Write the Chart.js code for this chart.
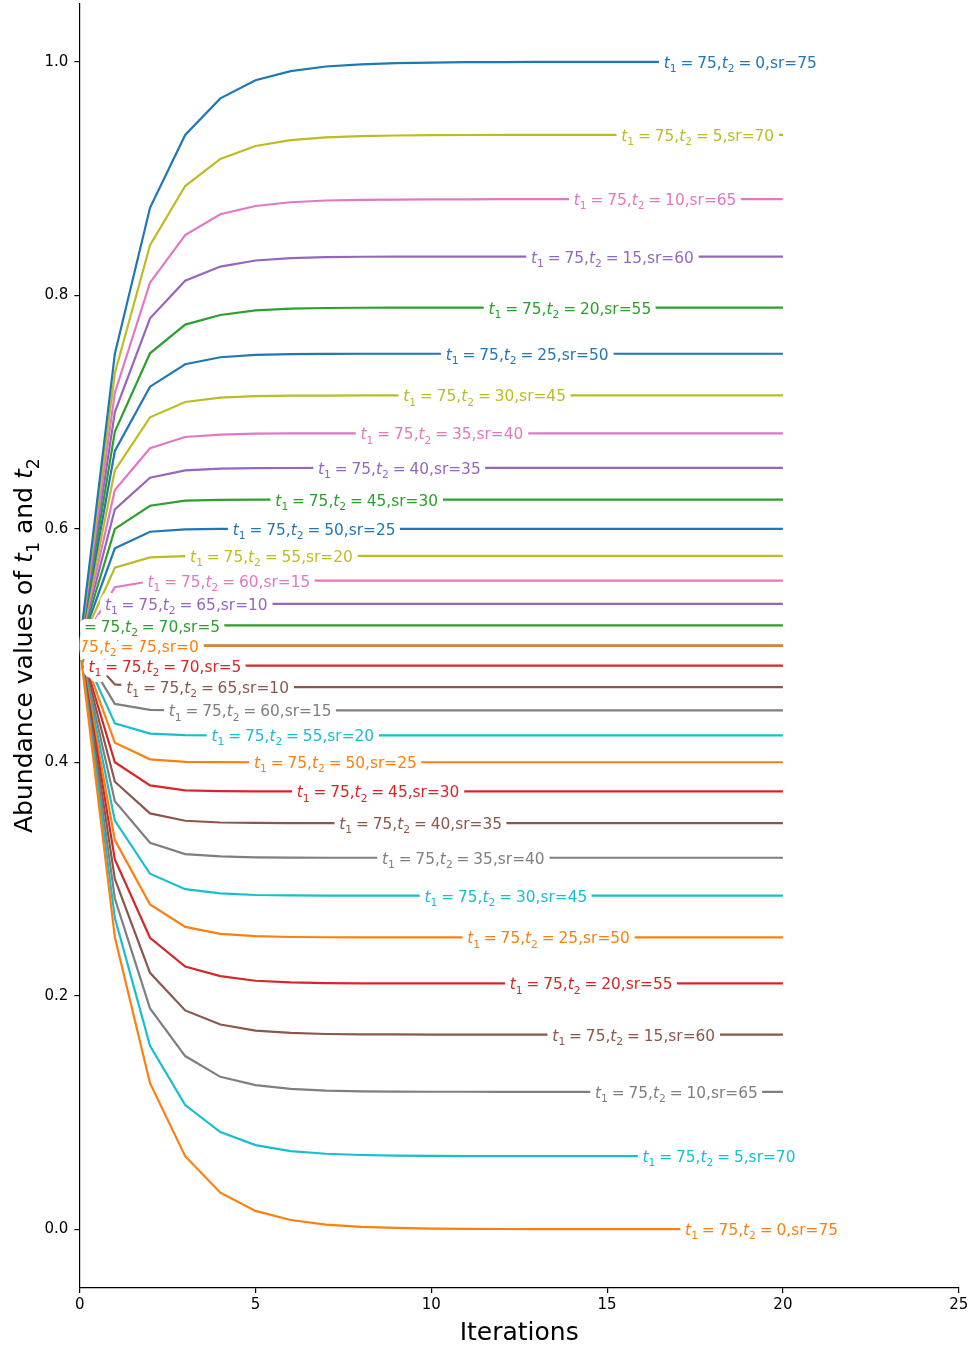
<!DOCTYPE html>
<html>
<head>
<meta charset="utf-8">
<title>Abundance of t1 and t2 over iterations</title>
<script src="https://cdn.jsdelivr.net/npm/chart.js@4.4.1/dist/chart.umd.min.js"></script>
<style>
  html, body { margin: 0; padding: 0; background: #ffffff; }
  #wrap { width: 974px; height: 1348px; position: relative; }
</style>
</head>
<body>
<div id="wrap"><canvas id="chart" width="974" height="1348"></canvas></div>
<script>
// ---- data ----------------------------------------------------------------
const iterations = [0, 1, 2, 3, 4, 5, 6, 7, 8, 9, 10, 11, 12, 13, 14, 15, 16, 17, 18, 19, 20];

const t1Value = 75;
// runs, in plotting order
const t2Values = [75, 70, 65, 60, 55, 50, 45, 40, 35, 30, 25, 20, 15, 10, 5, 0];
const srValues = [0, 5, 10, 15, 20, 25, 30, 35, 40, 45, 50, 55, 60, 65, 70, 75];

// abundance of t1 per iteration, one row per run
const t1Runs = [
  [0.5, 0.5, 0.5, 0.5, 0.5, 0.5, 0.5,
   0.5, 0.5, 0.5, 0.5, 0.5, 0.5, 0.5,
   0.5, 0.5, 0.5, 0.5, 0.5, 0.5, 0.5],
  [0.5, 0.5167, 0.5172, 0.5172, 0.5172, 0.5172, 0.5172,
   0.5172, 0.5172, 0.5172, 0.5172, 0.5172, 0.5172, 0.5172,
   0.5172, 0.5172, 0.5172, 0.5172, 0.5172, 0.5172, 0.5172],
  [0.5, 0.5333, 0.5356, 0.5357, 0.5357, 0.5357, 0.5357,
   0.5357, 0.5357, 0.5357, 0.5357, 0.5357, 0.5357, 0.5357,
   0.5357, 0.5357, 0.5357, 0.5357, 0.5357, 0.5357, 0.5357],
  [0.5, 0.55, 0.5551, 0.5555, 0.5556, 0.5556, 0.5556,
   0.5556, 0.5556, 0.5556, 0.5556, 0.5556, 0.5556, 0.5556,
   0.5556, 0.5556, 0.5556, 0.5556, 0.5556, 0.5556, 0.5556],
  [0.5, 0.5667, 0.5755, 0.5767, 0.5769, 0.5769, 0.5769,
   0.5769, 0.5769, 0.5769, 0.5769, 0.5769, 0.5769, 0.5769,
   0.5769, 0.5769, 0.5769, 0.5769, 0.5769, 0.5769, 0.5769],
  [0.5, 0.5833, 0.5975, 0.5996, 0.5999, 0.6, 0.6,
   0.6, 0.6, 0.6, 0.6, 0.6, 0.6, 0.6,
   0.6, 0.6, 0.6, 0.6, 0.6, 0.6, 0.6],
  [0.5, 0.6, 0.6198, 0.6241, 0.6248, 0.625, 0.625,
   0.625, 0.625, 0.625, 0.625, 0.625, 0.625, 0.625,
   0.625, 0.625, 0.625, 0.625, 0.625, 0.625, 0.625],
  [0.5, 0.6167, 0.6438, 0.6501, 0.6516, 0.652, 0.6521,
   0.6522, 0.6522, 0.6522, 0.6522, 0.6522, 0.6522, 0.6522,
   0.6522, 0.6522, 0.6522, 0.6522, 0.6522, 0.6522, 0.6522],
  [0.5, 0.6333, 0.669, 0.6787, 0.6807, 0.6815, 0.6817,
   0.6818, 0.6818, 0.6818, 0.6818, 0.6818, 0.6818, 0.6818,
   0.6818, 0.6818, 0.6818, 0.6818, 0.6818, 0.6818, 0.6818],
  [0.5, 0.65, 0.6955, 0.7087, 0.7124, 0.7137, 0.7141,
   0.7142, 0.7143, 0.7143, 0.7143, 0.7143, 0.7143, 0.7143,
   0.7143, 0.7143, 0.7143, 0.7143, 0.7143, 0.7143, 0.7143],
  [0.5, 0.6667, 0.7218, 0.741, 0.747, 0.749, 0.7497,
   0.7499, 0.75, 0.75, 0.75, 0.75, 0.75, 0.75,
   0.75, 0.75, 0.75, 0.75, 0.75, 0.75, 0.75],
  [0.5, 0.6833, 0.7504, 0.775, 0.7832, 0.7872, 0.7886,
   0.7892, 0.7894, 0.7895, 0.7895, 0.7895, 0.7895, 0.7895,
   0.7895, 0.7895, 0.7895, 0.7895, 0.7895, 0.7895, 0.7895],
  [0.5, 0.7, 0.7804, 0.8126, 0.8247, 0.8299, 0.8319,
   0.8328, 0.8331, 0.8332, 0.8333, 0.8333, 0.8333, 0.8333,
   0.8333, 0.8333, 0.8333, 0.8333, 0.8333, 0.8333, 0.8333],
  [0.5, 0.7167, 0.8109, 0.8517, 0.8695, 0.8766, 0.8798,
   0.8813, 0.8819, 0.8821, 0.8823, 0.8823, 0.8824, 0.8824,
   0.8824, 0.8824, 0.8824, 0.8824, 0.8824, 0.8824, 0.8824],
  [0.5, 0.7333, 0.843, 0.8937, 0.9169, 0.928, 0.9331,
   0.9354, 0.9365, 0.937, 0.9373, 0.9374, 0.9375, 0.9375,
   0.9375, 0.9375, 0.9375, 0.9375, 0.9375, 0.9375, 0.9375],
  [0.5, 0.75, 0.875, 0.9375, 0.9688, 0.9844, 0.9922,
   0.9961, 0.998, 0.999, 0.9995, 0.9998, 0.9999, 1,
   1, 1, 1, 1, 1, 1, 1]
];

// abundance of t2 per iteration, one row per run
const t2Runs = [
  [0.5, 0.5, 0.5, 0.5, 0.5, 0.5, 0.5,
   0.5, 0.5, 0.5, 0.5, 0.5, 0.5, 0.5,
   0.5, 0.5, 0.5, 0.5, 0.5, 0.5, 0.5],
  [0.5, 0.4833, 0.4828, 0.4828, 0.4828, 0.4828, 0.4828,
   0.4828, 0.4828, 0.4828, 0.4828, 0.4828, 0.4828, 0.4828,
   0.4828, 0.4828, 0.4828, 0.4828, 0.4828, 0.4828, 0.4828],
  [0.5, 0.4667, 0.4644, 0.4643, 0.4643, 0.4643, 0.4643,
   0.4643, 0.4643, 0.4643, 0.4643, 0.4643, 0.4643, 0.4643,
   0.4643, 0.4643, 0.4643, 0.4643, 0.4643, 0.4643, 0.4643],
  [0.5, 0.45, 0.4449, 0.4445, 0.4444, 0.4444, 0.4444,
   0.4444, 0.4444, 0.4444, 0.4444, 0.4444, 0.4444, 0.4444,
   0.4444, 0.4444, 0.4444, 0.4444, 0.4444, 0.4444, 0.4444],
  [0.5, 0.4333, 0.4245, 0.4233, 0.4231, 0.4231, 0.4231,
   0.4231, 0.4231, 0.4231, 0.4231, 0.4231, 0.4231, 0.4231,
   0.4231, 0.4231, 0.4231, 0.4231, 0.4231, 0.4231, 0.4231],
  [0.5, 0.4167, 0.4025, 0.4004, 0.4001, 0.4, 0.4,
   0.4, 0.4, 0.4, 0.4, 0.4, 0.4, 0.4,
   0.4, 0.4, 0.4, 0.4, 0.4, 0.4, 0.4],
  [0.5, 0.4, 0.3802, 0.3759, 0.3752, 0.375, 0.375,
   0.375, 0.375, 0.375, 0.375, 0.375, 0.375, 0.375,
   0.375, 0.375, 0.375, 0.375, 0.375, 0.375, 0.375],
  [0.5, 0.3833, 0.3562, 0.3499, 0.3484, 0.348, 0.3479,
   0.3478, 0.3478, 0.3478, 0.3478, 0.3478, 0.3478, 0.3478,
   0.3478, 0.3478, 0.3478, 0.3478, 0.3478, 0.3478, 0.3478],
  [0.5, 0.3667, 0.331, 0.3213, 0.3193, 0.3185, 0.3183,
   0.3182, 0.3182, 0.3182, 0.3182, 0.3182, 0.3182, 0.3182,
   0.3182, 0.3182, 0.3182, 0.3182, 0.3182, 0.3182, 0.3182],
  [0.5, 0.35, 0.3045, 0.2913, 0.2876, 0.2863, 0.2859,
   0.2858, 0.2857, 0.2857, 0.2857, 0.2857, 0.2857, 0.2857,
   0.2857, 0.2857, 0.2857, 0.2857, 0.2857, 0.2857, 0.2857],
  [0.5, 0.3333, 0.2782, 0.259, 0.253, 0.251, 0.2503,
   0.2501, 0.25, 0.25, 0.25, 0.25, 0.25, 0.25,
   0.25, 0.25, 0.25, 0.25, 0.25, 0.25, 0.25],
  [0.5, 0.3167, 0.2496, 0.225, 0.2168, 0.2128, 0.2114,
   0.2108, 0.2106, 0.2105, 0.2105, 0.2105, 0.2105, 0.2105,
   0.2105, 0.2105, 0.2105, 0.2105, 0.2105, 0.2105, 0.2105],
  [0.5, 0.3, 0.2196, 0.1874, 0.1753, 0.1701, 0.1681,
   0.1672, 0.1669, 0.1668, 0.1667, 0.1667, 0.1667, 0.1667,
   0.1667, 0.1667, 0.1667, 0.1667, 0.1667, 0.1667, 0.1667],
  [0.5, 0.2833, 0.1891, 0.1483, 0.1305, 0.1234, 0.1202,
   0.1187, 0.1181, 0.1179, 0.1177, 0.1177, 0.1176, 0.1176,
   0.1176, 0.1176, 0.1176, 0.1176, 0.1176, 0.1176, 0.1176],
  [0.5, 0.2667, 0.157, 0.1063, 0.0831, 0.072, 0.0669,
   0.0646, 0.0635, 0.063, 0.0627, 0.0626, 0.0625, 0.0625,
   0.0625, 0.0625, 0.0625, 0.0625, 0.0625, 0.0625, 0.0625],
  [0.5, 0.25, 0.125, 0.0625, 0.0312, 0.0156, 0.0078,
   0.0039, 0.002, 0.001, 0.0005, 0.0002, 0.0001, 0,
   0, 0, 0, 0, 0, 0, 0]
];

const xTicks = [0, 5, 10, 15, 20, 25];
const yTicks = [0.0, 0.2, 0.4, 0.6, 0.8, 1.0];
const xTitle = 'Iterations';

// ---- styling ---------------------------------------------------------------
const palette = ['#1f77b4', '#ff7f0e', '#2ca02c', '#d62728', '#9467bd',
                 '#8c564b', '#e377c2', '#7f7f7f', '#bcbd22', '#17becf'];
const FAMILY = '"DejaVu Sans", "Liberation Sans", sans-serif';
const LABEL_SIZE = 15.4;
const TITLE_SIZE = 25;
const TICK_SIZE = 15;

// label pieces: italic t with subscript, math spacing around "="
function runLabel(t2, sr) {
  return [
    { t: 't', it: true }, { t: '1', sub: true }, { gap: 0.25 }, { t: '=' }, { gap: 0.25 },
    { t: String(t1Value) }, { t: ',' },
    { t: 't', it: true }, { t: '2', sub: true }, { gap: 0.25 }, { t: '=' }, { gap: 0.25 },
    { t: String(t2) }, { t: ',sr=' + sr }
  ];
}
const yTitleParts = [
  { t: 'Abundance values of ' }, { t: 't', it: true }, { t: '1', sub: true },
  { t: ' and ' }, { t: 't', it: true }, { t: '2', sub: true }
];

function layoutParts(ctx, parts, size) {
  let w = 0;
  const items = parts.map(p => {
    const fs = p.sub ? size * 0.7 : size;
    const font = (p.it ? 'italic ' : '') + fs + 'px ' + FAMILY;
    let adv;
    if (p.gap) { adv = p.gap * size; }
    else { ctx.font = font; adv = ctx.measureText(p.t).width; }
    const item = { p, font, x: w, dy: p.sub ? size * 0.27 : 0 };
    w += adv;
    return item;
  });
  return { items, width: w };
}

function paintParts(ctx, laid, x0, baseline, color, outline) {
  ctx.textAlign = 'left';
  ctx.textBaseline = 'alphabetic';
  if (outline) {
    ctx.lineWidth = outline;
    ctx.lineJoin = 'round';
    ctx.strokeStyle = '#ffffff';
    laid.items.forEach(it => {
      if (it.p.gap) return;
      ctx.font = it.font;
      ctx.strokeText(it.p.t, x0 + it.x, baseline + it.dy);
    });
  }
  ctx.fillStyle = color;
  laid.items.forEach(it => {
    if (it.p.gap) return;
    ctx.font = it.font;
    ctx.fillText(it.p.t, x0 + it.x, baseline + it.dy);
  });
}

function valueAt(xs, ys, xv) {
  for (let k = 0; k < xs.length - 1; k++) {
    if (xv >= xs[k] && xv <= xs[k + 1]) {
      const f = (xv - xs[k]) / (xs[k + 1] - xs[k]);
      return ys[k] + f * (ys[k + 1] - ys[k]);
    }
  }
  return ys[ys.length - 1];
}

// ---- datasets: t1 then t2 for every run -----------------------------------
const series = [];
t2Values.forEach((t2, r) => {
  series.push({ values: t1Runs[r], parts: runLabel(t2, srValues[r]) });
  series.push({ values: t2Runs[r], parts: runLabel(t2, srValues[r]) });
});
const N = series.length;
const datasets = series.map((s, i) => ({
  label: 't1=' + t1Value + ',t2=' + t2Values[Math.floor(i / 2)] + ',sr=' + srValues[Math.floor(i / 2)],
  data: iterations.map((x, k) => ({ x: x, y: s.values[k] })),
  borderColor: palette[i % palette.length],
  backgroundColor: palette[i % palette.length],
  borderWidth: 2.2,
  pointRadius: 0,
  pointHoverRadius: 0,
  tension: 0,
  fill: false,
  order: N - i
}));

// inline labels spread evenly along the iteration range
const inlineLabels = {
  id: 'inlineLabels',
  afterDatasetsDraw(chart) {
    const { ctx, chartArea: a, scales } = chart;
    const x0 = iterations[0], x1 = iterations[iterations.length - 1];
    ctx.save();
    ctx.beginPath();
    ctx.rect(a.left + 0.7, a.top, a.right - a.left - 0.7, a.bottom - a.top);
    ctx.clip();
    series.forEach((s, i) => {
      const xv = x0 + (x1 - x0) * (i + 1) / (N + 1);
      const yv = valueAt(iterations, s.values, xv);
      const px = scales.x.getPixelForValue(xv);
      const py = scales.y.getPixelForValue(yv);
      const laid = layoutParts(ctx, s.parts, LABEL_SIZE);
      paintParts(ctx, laid, px - laid.width / 2, py + LABEL_SIZE * 0.39,
                 palette[i % palette.length], 12);
    });
    ctx.restore();
  }
};

// axis titles
const axisTitles = {
  id: 'axisTitles',
  afterDraw(chart) {
    const { ctx, chartArea: a } = chart;
    ctx.save();
    ctx.fillStyle = '#000';
    ctx.font = TITLE_SIZE + 'px ' + FAMILY;
    ctx.textAlign = 'center';
    ctx.textBaseline = 'alphabetic';
    ctx.fillText(xTitle, (a.left + a.right) / 2, 1340);
    const laid = layoutParts(ctx, yTitleParts, TITLE_SIZE);
    ctx.translate(32, (a.top + a.bottom) / 2);
    ctx.rotate(-Math.PI / 2);
    paintParts(ctx, laid, -laid.width / 2, 0, '#000', 0);
    ctx.restore();
  }
};

const tickFont = { family: FAMILY, size: TICK_SIZE };

new Chart(document.getElementById('chart'), {
  type: 'line',
  data: { datasets },
  options: {
    responsive: false,
    animation: false,
    devicePixelRatio: 1,
    events: [],
    layout: { padding: { left: 0, right: 15.3, top: 3.6, bottom: 0 } },
    plugins: { legend: { display: false }, tooltip: { enabled: false }, title: { display: false } },
    scales: {
      x: {
        type: 'linear',
        min: xTicks[0],
        max: xTicks[xTicks.length - 1],
        afterBuildTicks: s => { s.ticks = xTicks.map(v => ({ value: v })); },
        afterFit: s => { s.height = 60.5; s.paddingLeft = 0; s.paddingRight = 0; },
        grid: { drawOnChartArea: false, drawTicks: true, tickLength: 5.5, color: '#000', lineWidth: 1.2 },
        border: { display: true, color: '#000', width: 1.2 },
        ticks: { color: '#000', font: tickFont, padding: 3, maxRotation: 0, autoSkip: false,
                 callback: v => String(v) }
      },
      y: {
        type: 'linear',
        min: -0.05,
        max: 1.05,
        afterBuildTicks: s => { s.ticks = yTicks.map(v => ({ value: v })); },
        afterFit: s => { s.width = 79.7; s.paddingTop = 0; s.paddingBottom = 0; },
        grid: { drawOnChartArea: false, drawTicks: true, tickLength: 5.3, color: '#000', lineWidth: 1.2 },
        border: { display: true, color: '#000', width: 1.2 },
        ticks: { color: '#000', font: tickFont, padding: 6, autoSkip: false,
                 callback: v => Number(v).toFixed(1) }
      }
    }
  },
  plugins: [inlineLabels, axisTitles]
});
</script>
</body>
</html>
